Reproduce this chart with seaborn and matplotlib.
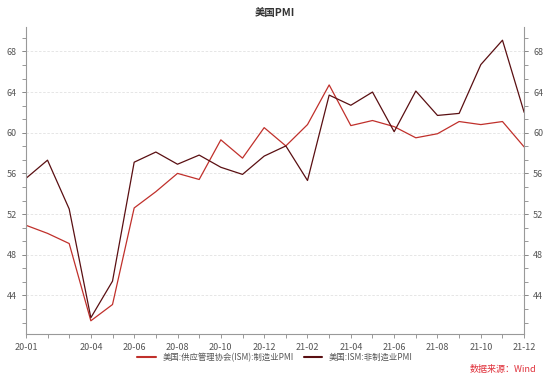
import seaborn as sns
import matplotlib.pyplot as plt
import pandas as pd
import numpy as np

months = ["20-01", "20-02", "20-03", "20-04", "20-05", "20-06", "20-07", "20-08",
          "20-09", "20-10", "20-11", "20-12", "21-01", "21-02", "21-03", "21-04",
          "21-05", "21-06", "21-07", "21-08", "21-09", "21-10", "21-11", "21-12"]
manufacturing = [50.9, 50.1, 49.1, 41.5, 43.1, 52.6, 54.2, 56.0, 55.4, 59.3, 57.5, 60.5,
                 58.7, 60.8, 64.7, 60.7, 61.2, 60.6, 59.5, 59.9, 61.1, 60.8, 61.1, 58.6]
non_manufacturing = [55.5, 57.3, 52.5, 41.8, 45.4, 57.1, 58.1, 56.9, 57.8, 56.6, 55.9, 57.7,
                     58.7, 55.3, 63.7, 62.7, 64.0, 60.1, 64.1, 61.7, 61.9, 66.7, 69.1, 62.0]
label_months = ["20-01", "20-04", "20-06", "20-08", "20-10", "20-12",
                "21-02", "21-04", "21-06", "21-08", "21-10", "21-12"]
names = ["美国:供应管理协会(ISM):制造业PMI", "美国:ISM:非制造业PMI"]
colors = ["#c0302b", "#5a0f12"]

sns.set_style("white")
plt.rcParams['font.family'] = ['Noto Sans CJK SC', 'DejaVu Sans']

df = pd.DataFrame({
    "idx": list(range(len(months))) * 2,
    "value": manufacturing + non_manufacturing,
    "series": [names[0]] * len(months) + [names[1]] * len(months),
})

fig = plt.figure(figsize=(5.5, 3.78), dpi=100)
ax = fig.add_axes([0.047, 0.1164, 0.906, 0.8122])

sns.lineplot(data=df, x="idx", y="value", hue="series", palette=colors,
             linewidth=0.9, ax=ax, legend=False)

ax.set_xlim(0, len(months) - 1)
ax.set_ylim(40.2, 70.4)
ax.set_xlabel("")
ax.set_ylabel("")

# x ticks: every month minor, labelled ones major
ax.set_xticks([months.index(m) for m in label_months])
ax.set_xticklabels(label_months)
ax.set_xticks(range(len(months)), minor=True)

ax.set_yticks([44, 48, 52, 56, 60, 64, 68])
ax.set_yticks(np.arange(41.33, 70.4, 4 / 3), minor=True)

ax.tick_params(axis="both", which="both", colors="#888888", labelcolor="#555555",
               labelsize=6.5, length=3, width=0.6)
ax.tick_params(axis="y", which="both", right=True, labelright=True, left=True)
ax.tick_params(axis="x", which="both", bottom=True)

for s in ["left", "right", "bottom"]:
    ax.spines[s].set_color("#999999")
    ax.spines[s].set_linewidth(0.8)
ax.spines["top"].set_visible(False)

ax.grid(axis="y", which="major", linestyle=(0, (3, 2)), color="#e2e2e2", linewidth=0.6)

fig.suptitle("美国PMI", x=0.5, y=0.978, fontsize=7.5, fontweight="bold", color="#333333")

handles = [plt.Line2D([], [], color=c, linewidth=1.5) for c in colors]
fig.legend(handles, names, loc="center", bbox_to_anchor=(0.5, 0.055), ncol=2,
           frameon=False, fontsize=6, handlelength=2.2, columnspacing=1.2,
           labelcolor="#555555")

fig.text(0.975, 0.022, "数据来源：Wind", ha="right", va="center", fontsize=6.5, color="#e0303a")

plt.savefig("out.png", dpi=100)
